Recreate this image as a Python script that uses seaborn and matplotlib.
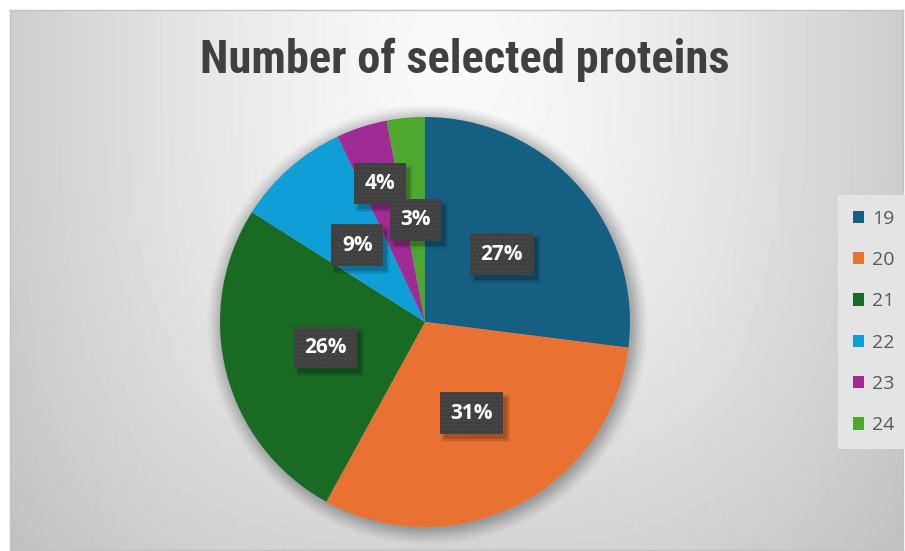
import numpy as np
import matplotlib
matplotlib.use("Agg")
import matplotlib.pyplot as plt
from matplotlib import font_manager
from matplotlib.patches import Circle, Rectangle
import seaborn as sns

# Share of selected proteins by group (percent)
groups = ["19", "20", "21", "22", "23", "24"]
shares = [27, 31, 26, 9, 4, 3]
colors = ["#156082", "#E97132", "#196B24", "#0F9ED5", "#A02B93", "#4EA72E"]
title = "Number of selected proteins"

sns.set_theme(style="white")
plt.rcParams["font.family"] = ["Open Sans", "DejaVu Sans"]
plt.rcParams["hatch.linewidth"] = 0.6
palette = sns.color_palette(colors)


def pick_narrow_font():
    """Return (family, stretch) of a narrow bold face if one is installed."""
    entries = font_manager.fontManager.ttflist
    names = {f.name for f in entries}
    for fam in ["Roboto Condensed", "Liberation Sans Narrow", "Open Sans Condensed",
                "Noto Sans Condensed", "Arial Narrow"]:
        if fam in names:
            return fam, "normal"
    for f in entries:
        if f.name == "DejaVu Sans" and f.stretch in ("condensed", "semi-condensed"):
            return "DejaVu Sans", "condensed"
    return "Roboto", "normal"


title_family, title_stretch = pick_narrow_font()

W, H = 905, 551
fig = plt.figure(figsize=(W / 100, H / 100), dpi=100)
fig.patch.set_facecolor("white")

# Chart area with a soft radial gradient
bg = fig.add_axes([10 / W, 1 / H, 893 / W, 540 / H])
xs = np.arange(10, 903)
ys = np.arange(10, 550)
X, Y = np.meshgrid(xs, ys)
dx = np.abs(X - 455) / 455
dy = np.abs(Y - 60) / 560
d = (dx ** 3 + dy ** 3) ** (1 / 3)
shade = np.clip(250 - 46 * d ** 1.4, 194, 250) / 255
bg.imshow(shade, cmap="gray", vmin=0, vmax=1, aspect="auto",
          interpolation="bilinear", extent=[0, 1, 0, 1], origin="upper")
bg.set_xlim(0, 1)
bg.set_ylim(0, 1)
bg.set_xticks([])
bg.set_yticks([])
for s in bg.spines.values():
    s.set_color("#c2c2c2")
    s.set_linewidth(1.0)

# Pie
R = 205
cx, cy = 425, 322
ax = fig.add_axes([(cx - R) / W, (H - cy - R) / H, 2 * R / W, 2 * R / H])

wedges, _ = ax.pie(shares, colors=palette, startangle=90, counterclock=False,
                   radius=1.0, wedgeprops=dict(linewidth=0, zorder=2))
ax.set_xlim(-1, 1)
ax.set_ylim(-1, 1)
ax.set_aspect("equal")
ax.axis("off")

# soft glow behind the pie
for r, a in zip(np.linspace(1.075, 1.0, 14), np.linspace(0.012, 0.03, 14)):
    ax.add_patch(Circle((0.012, -0.012), r, facecolor="black", alpha=a,
                        edgecolor="none", zorder=0, clip_on=False))

# Data labels
label_dist = [0.5, 0.5, 0.5, 0.5, 0.71, 0.5]
labels = []
for w, v, ld in zip(wedges, shares, label_dist):
    ang = np.deg2rad((w.theta1 + w.theta2) / 2)
    x, y = ld * np.cos(ang), ld * np.sin(ang)
    t = ax.text(x, y, f"{v}%", ha="center", va="center", fontsize=15,
                fontweight="bold", color="white", zorder=5,
                bbox=dict(boxstyle="square,pad=0.5", facecolor="#404040",
                          edgecolor="#4e4e4e", linewidth=0, hatch="...."))
    labels.append(t)

# Legend
leg = ax.legend(wedges, groups, loc="center left",
                bbox_to_anchor=((838 - (cx - R)) / (2 * R), (H - 322 - (H - cy - R)) / (2 * R)),
                frameon=True, fancybox=False, fontsize=14, labelcolor="#595959",
                handlelength=0.6, handleheight=0.6, handletextpad=0.4,
                labelspacing=1.2, borderpad=0.75, borderaxespad=0)
frame = leg.get_frame()
frame.set_facecolor("#e4e4e4")
frame.set_edgecolor("none")
frame.set_alpha(1)

# Title
fig.text(465 / W, (H - 73) / H, title, ha="center", va="baseline",
         fontsize=33.5, fontweight="bold", color="#404040",
         family=[title_family, "DejaVu Sans"], fontstretch=title_stretch)

# Drop shadows under the label boxes
fig.canvas.draw()
renderer = fig.canvas.get_renderer()
for t in labels:
    bb = t.get_bbox_patch().get_window_extent(renderer)
    for grow, al in [(3.0, 0.06), (1.5, 0.09), (0.0, 0.16)]:
        fig.patches.append(Rectangle(
            ((bb.x0 + 4 - grow) / W, (bb.y0 - 5 - grow) / H),
            (bb.width + 2 * grow) / W, (bb.height + 2 * grow) / H,
            transform=fig.transFigure, facecolor="black", alpha=al,
            edgecolor="none", zorder=4, figure=fig))
# keep the label boxes above their shadows
for t in labels:
    t.remove()
    fig.add_artist(t)

fig.savefig("out.png", dpi=100, facecolor="white")
